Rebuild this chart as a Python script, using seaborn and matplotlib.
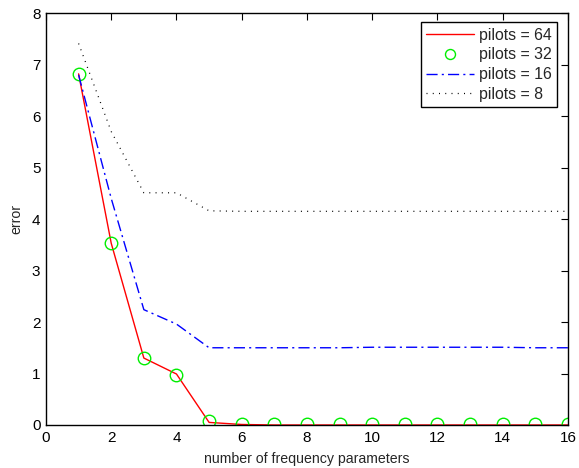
import matplotlib
matplotlib.use("Agg")
import matplotlib.pyplot as plt
import seaborn as sns
import pandas as pd

x = list(range(1, 17))
pilots64 = [6.82, 3.53, 1.30, 0.99, 0.05, 0.01, 0.0, 0.0, 0.0, 0.0, 0.0, 0.0, 0.0, 0.0, 0.0, 0.0]
pilots32 = [6.82, 3.54, 1.30, 0.98, 0.07, 0.02, 0.02, 0.02, 0.02, 0.02, 0.02, 0.02, 0.02, 0.02, 0.02, 0.02]
pilots16 = [6.80, 4.40, 2.24, 1.96, 1.50, 1.50, 1.50, 1.50, 1.50, 1.51, 1.51, 1.51, 1.51, 1.51, 1.50, 1.50]
pilots8 = [7.41, 5.70, 4.51, 4.51, 4.16, 4.15, 4.15, 4.15, 4.15, 4.15, 4.15, 4.15, 4.15, 4.15, 4.15, 4.15]
labels = ["pilots = 64", "pilots = 32", "pilots = 16", "pilots = 8"]
x_ticks = list(range(0, 17, 2))
y_ticks = list(range(0, 9))

sns.set_style("white")
plt.rcParams["font.family"] = ["Liberation Sans", "DejaVu Sans"]

fig = plt.figure(figsize=(5.79, 4.68), dpi=100)
ax = fig.add_axes([0.0794, 0.0919, 0.9016, 0.8801])

df = pd.DataFrame({"x": x, "p64": pilots64, "p32": pilots32, "p16": pilots16, "p8": pilots8})

sns.lineplot(data=df, x="x", y="p64", ax=ax, color="#ff0000", lw=1.0, label=labels[0])
sns.lineplot(data=df, x="x", y="p32", ax=ax, color="#00ee00", lw=0, marker="o",
             markersize=9, markerfacecolor="none", markeredgecolor="#00ee00",
             markeredgewidth=1.0, label=labels[1])
sns.lineplot(data=df, x="x", y="p16", ax=ax, color="#0000ff", lw=1.0,
             linestyle=(0, (8, 3, 1.5, 3)), label=labels[2])
sns.lineplot(data=df, x="x", y="p8", ax=ax, color="black", lw=0.9,
             linestyle=(0, (0.8, 4.2)), label=labels[3])

ax.set_xlim(0, 16)
ax.set_ylim(0, 8)
ax.set_xticks(x_ticks)
ax.set_yticks(y_ticks)
ax.set_xlabel("number of frequency parameters", fontsize=10.2, labelpad=5.5)
ax.set_ylabel("error", fontsize=10.2, labelpad=6)
ax.tick_params(direction="in", top=True, right=True, length=5, width=0.8,
               labelsize=11, colors="black", pad=4)
for s in ax.spines.values():
    s.set_color("black")
    s.set_linewidth(1.0)

leg = ax.legend(loc="upper right", bbox_to_anchor=(0.979, 0.978), fontsize=11.4,
                frameon=True, fancybox=False, edgecolor="black", framealpha=1,
                borderpad=0.35, labelspacing=0.3, handlelength=3.0, handletextpad=0.3,
                borderaxespad=0, markerscale=0.8)
leg.get_frame().set_linewidth(1.0)

fig.savefig("out.png", dpi=100)
